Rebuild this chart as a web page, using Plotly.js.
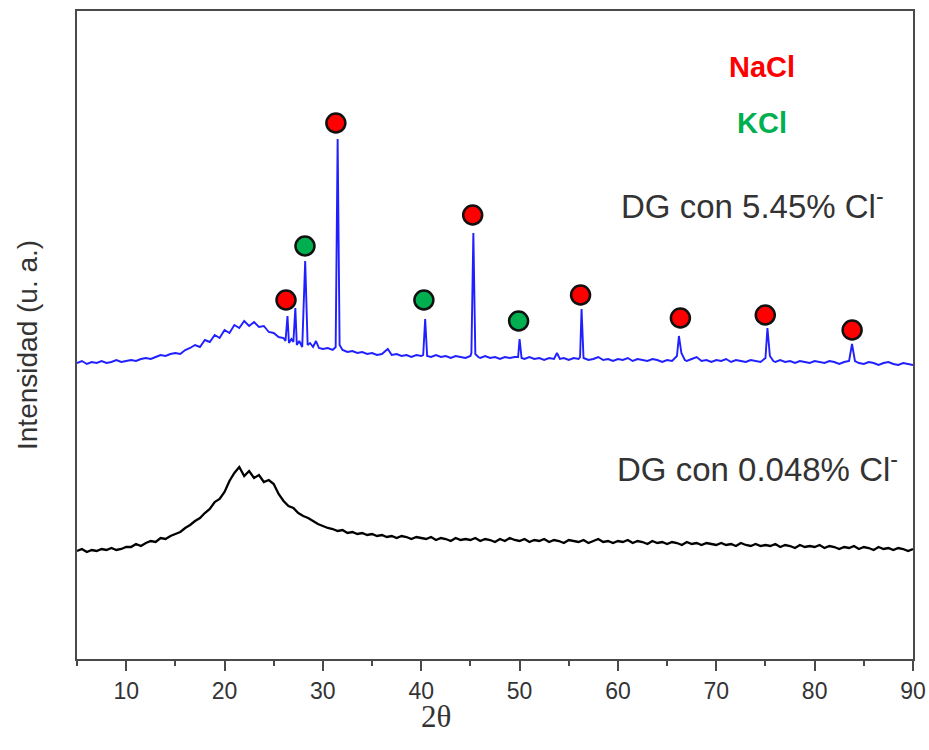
<!DOCTYPE html>
<html>
<head>
<meta charset="utf-8">
<script src="https://cdn.plot.ly/plotly-3.0.1.min.js"></script>
<style>html,body{margin:0;padding:0;background:#fff;}#chart{width:929px;height:750px;}</style>
</head>
<body>
<div id="chart"></div>
<script>
// 2θ positions and intensities (arbitrary units)
const blackX = [5,5.5,6,6.5,7,7.5,8,8.5,9,9.5,10,
10.5,11,11.5,12,12.5,13,13.5,14,14.5,15,
15.5,16,16.5,17,17.5,18,18.5,19,19.5,20,
20.5,21,21.5,22,22.5,23,23.5,24,24.5,25,
25.5,26,26.5,27,27.5,28,28.5,29,29.5,30,
30.5,31,31.5,32,32.5,33,33.5,34,34.5,35,
35.5,36,36.5,37,37.5,38,38.5,39,39.5,40,
40.5,41,41.5,42,42.5,43,43.5,44,44.5,45,
45.5,46,46.5,47,47.5,48,48.5,49,49.5,50,
50.5,51,51.5,52,52.5,53,53.5,54,54.5,55,
55.5,56,56.5,57,57.5,58,58.5,59,59.5,60,
60.5,61,61.5,62,62.5,63,63.5,64,64.5,65,
65.5,66,66.5,67,67.5,68,68.5,69,69.5,70,
70.5,71,71.5,72,72.5,73,73.5,74,74.5,75,
75.5,76,76.5,77,77.5,78,78.5,79,79.5,80,
80.5,81,81.5,82,82.5,83,83.5,84,84.5,85,
85.5,86,86.5,87,87.5,88,88.5,89,89.5,90];
const blackY = [108,110,107,109,108,110,109,111,109,110,112,
112,115,113,116,118,117,121,120,123,125,
127,131,134,138,141,146,150,157,160,167,
178,186,192,183,188,181,184,177,179,175,
165,158,153,151,146,143,141,138,135,133,
131,130,128,129,126,127,125,126,124,125,
123,124,122,123,121,123,122,120,122,121,
120,122,119,121,120,118,121,119,120,119,
121,118,120,119,117,120,118,121,119,118,
120,117,119,118,120,117,119,118,116,119,
118,117,119,116,118,120,117,118,116,118,
117,119,116,118,117,115,118,116,117,115,
117,116,114,117,115,116,114,116,115,114,
116,114,115,113,116,114,113,115,113,114,
113,115,112,114,113,111,114,112,113,112,
114,111,113,112,110,112,111,113,110,112,
111,109,112,110,111,109,111,110,108,110];

const blueX = [5,5.5,6,6.5,7,7.5,8,8.5,9,9.5,10,10.5,11,11.5,12,12.5,13,13.5,14,14.5,15,15.5,16,16.5,17,17.5,18,18.5,19,19.5,20,20.5,21,21.5,22,22.5,23,23.5,24,24.5,25,25.5,26,
26.2,26.4,26.55,26.8,27,27.2,27.35,27.6,27.9,28.2,28.45,28.7,29,29.3,29.6,30,30.5,31,31.3,31.5,31.7,32,32.5,33,33.5,34,34.5,35,35.5,36,36.6,37,37.5,38,38.5,39,39.5,40,
40.2,40.4,40.6,41,41.5,42,42.5,43,43.5,44,44.5,45,45.1,45.3,45.5,45.8,46,46.5,47,47.5,48,48.5,49,49.5,49.85,50,50.2,50.5,51,51.5,52,52.5,53,53.5,53.8,54.1,54.5,55,55.5,56,
56.15,56.3,56.5,57,57.5,58,58.5,59,59.5,60,60.5,61,61.5,62,62.5,63,63.5,64,64.5,65,65.5,66,66.2,66.45,66.8,67,67.5,68,68.5,69,69.5,70,70.5,71,71.5,72,72.5,73,73.5,74,74.5,
75,75.2,75.45,75.8,76,76.5,77,77.5,78,78.5,79,79.5,80,80.5,81,81.5,82,82.5,83,83.5,83.8,84.1,84.5,85,85.5,86,86.5,87,87.5,88,88.5,89,89.5,90];
const blueY = [296,298,295,297,296,298,296,297,299,297,298,299,298,300,301,300,302,304,303,305,306,305,309,311,314,312,319,317,324,321,329,326,334,331,338,333,337,332,333,327,326,322,321,
318,343,316,320,317,351,314,318,312,398,314,316,312,318,311,310,311,309,312,520,314,309,307,308,306,307,305,306,304,305,310,304,305,303,304,302,304,303,
304,340,303,302,304,302,303,301,303,302,301,303,306,426,305,302,301,303,301,302,300,302,301,302,302,320,301,300,302,300,301,299,301,300,306,300,301,299,301,300,
302,350,301,299,300,302,299,300,298,300,299,301,298,300,299,298,300,299,297,299,298,303,323,306,299,298,300,302,298,299,297,299,298,300,297,299,298,297,299,298,297,
301,331,303,298,297,299,297,298,296,298,297,296,298,297,296,298,297,295,297,298,315,298,296,295,297,296,294,296,297,295,294,296,295,294];

// phase markers
const naclX = [26.25, 31.32, 45.23, 56.2, 66.35, 74.98, 83.81];
const naclY = [359, 536, 444, 364, 341, 344, 329];
const kclX = [28.18, 40.27, 49.9];
const kclY = [413, 359, 338];

const tickVals = [10,20,30,40,50,60,70,80,90];
const tickText = ['10','20','30','40','50','60','70','80','90'];

const axisColor = '#4a4a4a';
const traces = [
  {x: blackX, y: blackY, mode: 'lines', line: {color: '#000', width: 2.3}, hoverinfo: 'skip'},
  {x: blueX, y: blueY, mode: 'lines', line: {color: '#1f1fff', width: 1.9}, hoverinfo: 'skip'},
  {x: naclX, y: naclY, mode: 'markers', marker: {color: '#ff0000', size: 19, line: {color: '#111', width: 2.5}}},
  {x: kclX, y: kclY, mode: 'markers', marker: {color: '#00b050', size: 19, line: {color: '#111', width: 2.5}}}
];

const layout = {
  width: 929, height: 750,
  margin: {l: 77, r: 16, t: 11, b: 91},
  paper_bgcolor: '#fff', plot_bgcolor: '#fff',
  showlegend: false,
  xaxis: {
    range: [5, 90], showgrid: false, zeroline: false,
    showline: true, mirror: true, linecolor: axisColor, linewidth: 2,
    ticks: 'outside', ticklen: 10, tickwidth: 2, tickcolor: axisColor,
    tickvals: tickVals, ticktext: tickText,
    tickfont: {family: 'Liberation Sans, Arial, sans-serif', size: 23, color: '#333'},
    minor: {dtick: 5, tick0: 5, ticks: 'outside', ticklen: 5, tickwidth: 2, tickcolor: axisColor, showgrid: false}
  },
  yaxis: {
    range: [0, 648], showgrid: false, zeroline: false,
    showline: true, mirror: true, linecolor: axisColor, linewidth: 2,
    ticks: '', showticklabels: false
  },
  annotations: [
    {xref: 'x', yref: 'y', x: 74.6, y: 592, text: '<b>NaCl</b>', showarrow: false,
     font: {family: 'Liberation Sans, Arial, sans-serif', size: 29, color: '#ff0000'}},
    {xref: 'x', yref: 'y', x: 74.6, y: 536, text: '<b>KCl</b>', showarrow: false,
     font: {family: 'Liberation Sans, Arial, sans-serif', size: 29, color: '#00b050'}},
    {xref: 'x', yref: 'y', x: 87.3, y: 455, xanchor: 'right', yanchor: 'middle', text: 'DG con 5.45% Cl<sup>-</sup>', showarrow: false,
     font: {family: 'Liberation Sans, Arial, sans-serif', size: 33, color: '#333'}},
    {xref: 'x', yref: 'y', x: 88.7, y: 192, xanchor: 'right', yanchor: 'middle', text: 'DG con 0.048% Cl<sup>-</sup>', showarrow: false,
     font: {family: 'Liberation Sans, Arial, sans-serif', size: 33, color: '#333'}},
    {xref: 'paper', yref: 'paper', x: 0.4294, y: -0.088, xanchor: 'center', yanchor: 'middle', text: '2θ', showarrow: false,
     font: {family: 'Liberation Serif, Times New Roman, serif', size: 31, color: '#333'}},
    {xref: 'paper', yref: 'paper', x: -0.0586, y: 0.4846, xanchor: 'center', yanchor: 'middle', text: 'Intensidad (u. a.)', textangle: -90, showarrow: false,
     font: {family: 'Liberation Sans, Arial, sans-serif', size: 28, color: '#333'}}
  ]
};

Plotly.newPlot('chart', traces, layout, {staticPlot: true, displayModeBar: false});
</script>
</body>
</html>
